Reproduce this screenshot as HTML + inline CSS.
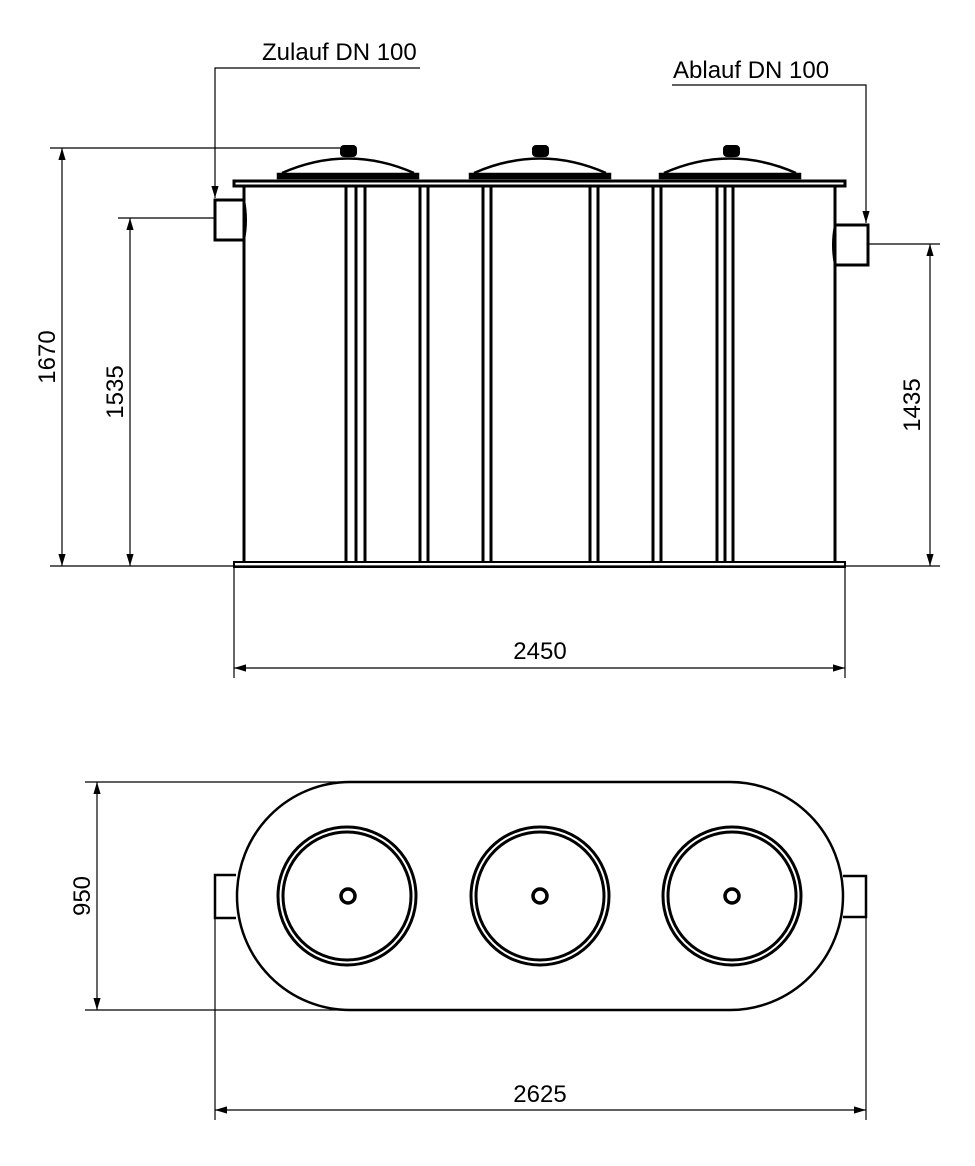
<!DOCTYPE html>
<html><head><meta charset="utf-8"><style>body{margin:0;background:#fff}svg{display:block}text{font-family:"Liberation Sans",sans-serif;font-size:24px;fill:#000}</style></head><body>
<svg width="975" height="1166" viewBox="0 0 975 1166" xmlns="http://www.w3.org/2000/svg">
<defs><marker id="a" viewBox="0 0 10 10" refX="10" refY="5" markerWidth="12" markerHeight="12" markerUnits="userSpaceOnUse" orient="auto-start-reverse"><path d="M0,2 L10,5 L0,8 z" fill="#000"/></marker></defs>
<g fill="none" stroke="#000">
<g stroke-width="3">
<rect x="234" y="181" width="611" height="5"/>
<line x1="244" y1="186" x2="244" y2="562"/><line x1="835" y1="186" x2="835" y2="562"/>
<line x1="346" y1="186" x2="346" y2="562"/><line x1="356" y1="186" x2="356" y2="562"/><line x1="365" y1="186" x2="365" y2="562"/>
<line x1="420" y1="186" x2="420" y2="562"/><line x1="428" y1="186" x2="428" y2="562"/>
<line x1="483" y1="186" x2="483" y2="562"/><line x1="491" y1="186" x2="491" y2="562"/>
<line x1="590" y1="186" x2="590" y2="562"/><line x1="598" y1="186" x2="598" y2="562"/>
<line x1="653" y1="186" x2="653" y2="562"/><line x1="661" y1="186" x2="661" y2="562"/>
<line x1="717" y1="186" x2="717" y2="562"/><line x1="725" y1="186" x2="725" y2="562"/><line x1="733" y1="186" x2="733" y2="562"/>
<path d="M244,200 H215 V240 H244"/><path d="M835,225 H868 V265 H835"/>
</g>
<path d="M244,200 Q248,220 244,240 M835,225 Q831,245 835,265" stroke-width="2"/>
<rect x="234" y="562" width="611" height="5" stroke-width="2"/>
<line x1="50" y1="566" x2="940" y2="566" stroke-width="1.2"/>
<g stroke-width="2.5">
<path d="M282,173 Q348,144 414,173" /><rect x="278" y="174" width="140" height="4" fill="#000"/>
<path d="M474,173 Q540,144 606,173" /><rect x="470" y="174" width="140" height="4" fill="#000"/>
<path d="M664,173 Q730,144 796,173" /><rect x="660" y="174" width="140" height="4" fill="#000"/>
</g>
<g fill="#000" stroke="none">
<rect x="340" y="145" width="17" height="12" rx="4"/><rect x="532" y="145" width="17" height="12" rx="4"/><rect x="723" y="145" width="17" height="12" rx="4"/>
</g>
<g stroke-width="1.2">
<path d="M420,68 H215 V198" marker-end="url(#a)"/>
<path d="M672,85 H866 V223" marker-end="url(#a)"/>
<line x1="50" y1="148" x2="340" y2="148"/><line x1="62" y1="148" x2="62" y2="566" marker-start="url(#a)" marker-end="url(#a)"/>
<line x1="118" y1="218" x2="215" y2="218"/><line x1="130" y1="218" x2="130" y2="566" marker-start="url(#a)" marker-end="url(#a)"/>
<line x1="868" y1="244" x2="940" y2="244"/><line x1="930" y1="244" x2="930" y2="566" marker-start="url(#a)" marker-end="url(#a)"/>
<line x1="234" y1="567" x2="234" y2="678"/><line x1="845" y1="567" x2="845" y2="678"/>
<line x1="234" y1="668" x2="845" y2="668" marker-start="url(#a)" marker-end="url(#a)"/>
</g>
<path d="M350,782 H730 A113,114 0 0 1 730,1010 H350 A113,114 0 0 1 350,782 Z" stroke-width="2.5"/>
<g stroke-width="2.5">
<path d="M236,875 H215 V918 H236"/><path d="M843,876 H866 V917 H843"/>
<circle cx="347" cy="896" r="69" stroke-width="3"/><circle cx="347" cy="896" r="64" stroke-width="3"/>
<circle cx="540" cy="896" r="69" stroke-width="3"/><circle cx="540" cy="896" r="64" stroke-width="3"/>
<circle cx="732" cy="896" r="69" stroke-width="3"/><circle cx="732" cy="896" r="64" stroke-width="3"/>
<circle cx="348" cy="896" r="7" stroke-width="3.5"/><circle cx="540" cy="896" r="7" stroke-width="3.5"/><circle cx="732" cy="896" r="7" stroke-width="3.5"/>
</g>
<g stroke-width="1.2">
<line x1="85" y1="782" x2="340" y2="782"/><line x1="85" y1="1010" x2="345" y2="1010"/>
<line x1="97" y1="782" x2="97" y2="1010" marker-start="url(#a)" marker-end="url(#a)"/>
<line x1="215" y1="918" x2="215" y2="1120"/><line x1="866" y1="917" x2="866" y2="1120"/>
<line x1="215" y1="1110" x2="866" y2="1110" marker-start="url(#a)" marker-end="url(#a)"/>
</g>
</g>
<text x="262" y="60">Zulauf DN 100</text>
<text x="673" y="78">Ablauf DN 100</text>
<text x="540" y="659" text-anchor="middle">2450</text>
<text x="540" y="1102" text-anchor="middle">2625</text>
<text transform="translate(55,357) rotate(-90)" text-anchor="middle">1670</text>
<text transform="translate(123,392) rotate(-90)" text-anchor="middle">1535</text>
<text transform="translate(920,405) rotate(-90)" text-anchor="middle">1435</text>
<text transform="translate(90,896) rotate(-90)" text-anchor="middle">950</text>
</svg>
</body></html>
